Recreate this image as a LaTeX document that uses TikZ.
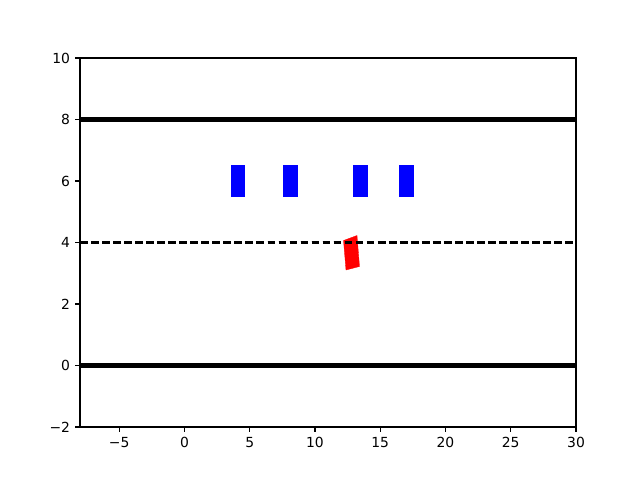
\documentclass[tikz,border=0pt]{standalone}
\usepackage{fontspec}
\setmainfont{DejaVu Sans}
\tikzset{
  ticklab/.style={font=\fontsize{13.89}{16}\selectfont, inner sep=0pt},
  axisline/.style={line width=1.11pt, line cap=rect},
  tickmark/.style={line width=1.11pt},
  roadedge/.style={line width=4.17pt},
  laneline/.style={line width=2.08pt, dash pattern=on 7.7pt off 3.33pt},
  obstacle/.style={fill={rgb,255:red,0;green,0;blue,255}, draw={rgb,255:red,0;green,0;blue,255}, line width=0.3pt},
  egocar/.style={fill={rgb,255:red,255;green,0;blue,0}, draw={rgb,255:red,255;green,0;blue,0}, line width=0.3pt}
}
\begin{document}
\begin{tikzpicture}[x=1pt,y=1pt]
\useasboundingbox (0,0) rectangle (640,480);
\fill[white] (0,0) rectangle (640,480);
\begin{scope}[shift={(184.42,114.5)}, x=13.0526pt, y=30.75pt]
  % obstacles
  \fill[obstacle] (3.55,5.5) rectangle (4.6,6.5);
  \fill[obstacle] (7.6,5.5) rectangle (8.65,6.5);
  \fill[obstacle] (12.95,5.5) rectangle (14.0,6.5);
  \fill[obstacle] (16.45,5.5) rectangle (17.5,6.5);
  % road edges and lane line
  \draw[roadedge] (-8,8) -- (30,8);
  \draw[roadedge] (-8,0) -- (30,0);
  \draw[laneline] (-8,4) -- (30,4);
  % axes frame
  \coordinate (bl) at (-8,-2);
  \coordinate (br) at (30,-2);
  \coordinate (tr) at (30,10);
  \coordinate (tl) at (-8,10);
  % x ticks
  \foreach \v/\t in {-5/−5,0/0,5/5,10/10,15/15,20/20,25/25,30/30}{
    \draw[tickmark] (\v,-2) -- ++(0,-4.86pt);
    \node[ticklab, anchor=north] (xt\v) at ([yshift=-9.72pt]\v,-2) {\t};
  }
  % y ticks
  \foreach \v in {-2,0,2,4,6,8,10}{
    \draw[tickmark] (-8,\v) -- ++(-4.86pt,0);
  }
  \foreach \v/\t in {-2/−2,0/0,2/2,4/4,6/6,8/8,10/10}{
    \node[ticklab, anchor=east] (yt\v) at ([xshift=-9.72pt]-8,\v) {\t};
  }
\end{scope}
% ego car (pixel coordinates)
\fill[egocar] (343.5,239.5) -- (357,244.5) -- (359.5,213.5) -- (346,210) -- cycle;
\begin{scope}[shift={(184.42,114.5)}, x=13.0526pt, y=30.75pt]
  \draw[laneline] (-8,4) -- (30,4);
  \draw[axisline] (-8,-2) rectangle (30,10);
\end{scope}
\end{tikzpicture}
\end{document}
